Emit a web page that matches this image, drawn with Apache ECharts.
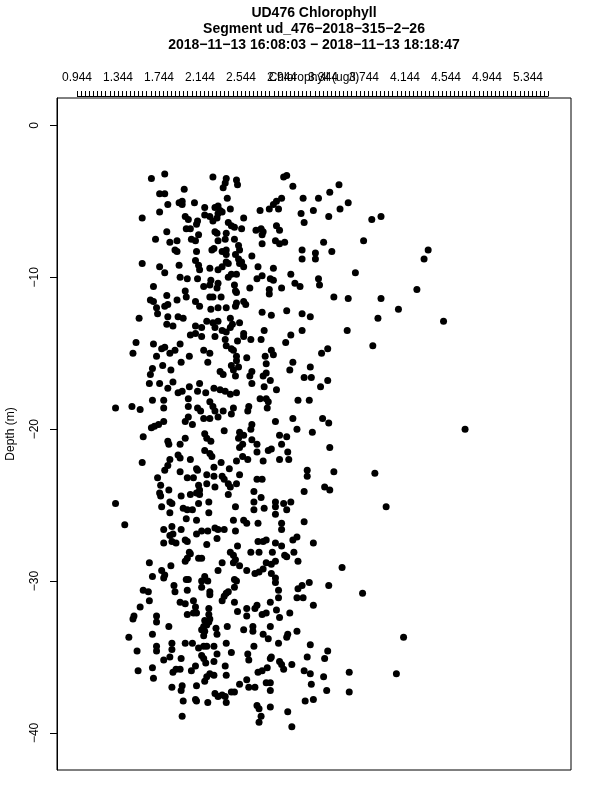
<!DOCTYPE html>
<html><head><meta charset="utf-8">
<script src="https://cdn.jsdelivr.net/npm/echarts@6/dist/echarts.min.js"></script>
<style>html,body{margin:0;padding:0;background:#fff}#c{width:600px;height:800px}</style>
</head><body><div id="c"></div>
<script>
const titleLines = ['UD476 Chlorophyll', 'Segment ud_476\u22122018\u2212315\u22122\u221226', '2018\u221211\u221213 16:08:03 \u2212 2018\u221211\u221213 18:18:47'];
const xTickLabels = [0.944, 1.344, 1.744, 2.144, 2.544, 2.944, 3.344, 3.744, 4.144, 4.544, 4.944, 5.344];
const yTickLabels = [0, -10, -20, -30, -40];
const xName = 'Chlorophyll (ug/l)';
const yName = 'Depth (m)';

// [chlorophyll (ug/l), depth (m)]
const upperCast = [
[1.67,-3.5],[1.80,-3.2],[2.27,-3.4],[2.40,-3.5],[2.39,-3.8],[2.37,-4.1],[2.50,-3.6],[2.51,-3.9],[2.96,-3.4],[2.99,-3.3],[3.05,-4.0],[3.50,-3.9],[3.41,-4.4],[1.99,-4.2],[1.75,-4.5],[1.80,-4.5],[2.41,-4.8],[2.94,-4.8],[3.15,-4.8],[3.30,-4.8],
[2.89,-5.0],[2.86,-5.2],[2.82,-5.5],[2.91,-5.5],[2.73,-5.6],[1.94,-5.1],[1.97,-5.0],[1.97,-5.2],[1.83,-5.2],[2.09,-5.1],[2.19,-5.4],[2.29,-5.4],[2.32,-5.3],[2.34,-5.6],[2.36,-5.7],[2.44,-5.5],[1.75,-5.7],[1.58,-6.1],[2.19,-5.9],[2.24,-6.0],
[2.27,-6.3],[2.31,-6.1],[2.32,-5.8],[2.57,-6.1],[2.00,-6.0],[2.03,-6.2],[2.12,-6.3],[2.11,-6.5],[2.42,-6.4],[2.45,-6.6],[2.48,-6.7],[2.55,-6.8],[2.69,-6.9],[2.74,-6.8],[2.76,-7.0],[2.75,-7.2],[2.89,-6.6],[2.92,-6.9],[3.13,-5.8],[3.25,-5.6],
[3.16,-6.4],[3.40,-6.0],[3.51,-5.5],[3.59,-5.1],[2.01,-6.8],[2.05,-6.8],[2.13,-7.2],[1.82,-7.0],[2.29,-7.0],[2.31,-7.1],[2.40,-7.1],[1.71,-7.5],[1.85,-7.7],[1.92,-7.6],[2.06,-7.5],[2.10,-7.6],[2.32,-7.6],[2.39,-7.5],[2.48,-7.5],[2.75,-7.8],
[2.88,-7.6],[2.92,-7.8],[2.97,-7.7],[3.35,-7.7],[2.52,-7.9],[2.53,-8.2],[1.90,-8.2],[1.92,-8.3],[2.11,-8.3],[2.26,-8.2],[2.28,-8.1],[2.36,-8.3],[2.40,-8.2],[2.40,-8.5],[2.49,-8.5],[2.52,-8.8],[2.55,-9.0],[2.65,-8.6],[3.14,-8.2],[3.14,-8.8],
[3.27,-8.4],[3.27,-8.8],[3.43,-8.3],[1.58,-9.1],[1.75,-9.3],[1.94,-9.2],[2.10,-8.9],[2.13,-9.2],[2.14,-9.5],[2.24,-9.4],[2.32,-9.5],[2.36,-9.3],[2.40,-9.0],[2.42,-9.1],[2.53,-9.1],[2.57,-9.3],[2.71,-9.3],[2.86,-9.4],[1.80,-9.7],[1.95,-10.0],
[2.02,-10.1],[2.12,-10.1],[2.25,-10.2],[2.32,-10.4],[2.42,-10.0],[2.45,-9.8],[2.50,-9.8],[2.70,-10.1],[2.75,-9.9],[2.83,-10.1],[2.86,-10.2],[3.03,-9.8],[3.07,-10.4],[3.12,-10.6],[3.30,-10.1],[3.31,-10.5],[1.69,-10.6],[2.18,-10.6],[2.24,-10.5],[2.31,-10.7],
[2.48,-10.5],[2.63,-10.7],[2.82,-10.8],[2.82,-11.1],[2.94,-10.7],[1.82,-11.2],[2.00,-10.9],[2.01,-11.3],[2.49,-10.9],[2.50,-11.0],[1.66,-11.5],[1.69,-11.6],[1.92,-11.5],[2.10,-11.6],[2.24,-11.3],[2.27,-11.3],[2.35,-11.3],[2.14,-11.9],[2.25,-12.1],[2.32,-12.0],
[2.40,-12.0],[2.49,-11.9],[2.50,-11.7],[2.57,-11.6],[2.59,-11.8],[1.72,-12.0],[1.73,-12.4],[1.80,-11.9],[1.83,-11.8],[2.75,-12.3],[2.84,-12.5],[2.99,-12.2],[3.14,-12.4],[3.22,-12.6],[3.45,-11.3],[3.59,-11.4],[1.55,-12.7],[1.83,-12.6],[1.93,-12.6],[1.98,-12.7],
[2.44,-12.7],[1.82,-13.1],[1.88,-13.2],[2.10,-13.2],[2.16,-13.3],[2.21,-12.9],[2.27,-13.0],[2.29,-13.3],[2.32,-12.9],[2.36,-13.5],[2.40,-13.6],[2.44,-13.3],[2.46,-13.1],[2.53,-13.0],[2.57,-13.7],[2.57,-13.9],[2.05,-13.8],[2.10,-13.7],[2.16,-13.9],[2.29,-13.9],
[2.39,-14.1],[2.51,-14.2],[2.64,-14.1],[2.77,-13.5],[2.74,-14.1],[3.03,-13.8],[3.14,-13.5],[2.98,-14.3],[3.58,-13.5],[1.52,-14.3],[1.69,-14.4],[1.77,-14.7],[1.80,-14.6],[1.95,-14.4],[2.40,-14.5],[2.45,-14.7],[2.47,-14.8],[2.50,-15.2],[3.39,-14.7],[3.33,-15.0],
[1.49,-15.0],[1.72,-15.2],[1.85,-15.0],[1.90,-14.8],[2.04,-15.2],[2.18,-14.8],[2.24,-15.0],[2.78,-15.2],[2.84,-14.8],[2.86,-15.1],[2.60,-15.3],
[3.82,-6.2],[3.91,-6.0],[3.74,-7.6],[4.37,-8.2],[4.33,-8.8],[3.66,-9.7],[4.26,-10.8],[3.91,-11.4],[4.08,-12.1],[3.88,-12.7],[4.52,-12.9],[3.83,-14.5]
];

const middleCast = [
[2.22,-15.6],[2.50,-15.5],[2.45,-15.8],[2.52,-15.9],[2.79,-15.7],[3.05,-15.6],[1.96,-15.6],
[1.68,-16.0],[1.66,-16.4],[1.78,-15.8],[1.86,-16.1],[2.34,-16.2],[2.37,-16.4],[2.47,-16.1],[2.49,-16.5],[2.65,-16.2],[2.63,-16.5],[2.79,-16.3],[2.76,-16.5],[2.83,-16.8],[3.02,-16.1],[3.22,-15.9],[3.16,-16.6],[3.23,-16.6],[3.39,-16.8],[3.32,-17.2],
[1.65,-17.0],[1.75,-17.0],[1.88,-16.9],[1.83,-17.3],[1.93,-17.6],[1.97,-17.5],[2.04,-17.2],[2.14,-17.0],[2.12,-17.5],[2.20,-17.6],[2.28,-17.3],[2.34,-17.4],[2.39,-17.5],[2.44,-17.7],[2.50,-17.6],[2.65,-17.0],[2.77,-17.2],[2.89,-17.4],[2.73,-18.0],[2.79,-18.0],[2.81,-18.2],[3.10,-18.1],[3.21,-18.1],[1.68,-18.1],[1.79,-18.1],[2.03,-18.0],[1.79,-18.6],
[1.32,-18.6],[1.48,-18.5],[1.56,-18.7],[2.03,-18.5],[2.12,-18.6],[2.15,-18.8],[2.24,-18.2],[2.27,-18.5],[2.29,-18.8],[2.37,-18.8],[2.45,-19.0],[2.47,-18.6],[2.62,-18.5],[2.61,-18.8],[2.80,-18.6],[2.88,-19.5],[3.05,-19.3],[3.34,-19.3],[3.40,-19.6],[2.00,-19.5],[2.03,-19.2],[2.07,-19.7],[2.18,-19.3],[2.24,-19.3],[2.32,-19.2],
[1.67,-19.9],[1.70,-19.8],[1.74,-19.7],[1.79,-19.5],[1.59,-20.5],[2.00,-20.6],[1.95,-21.0],[1.83,-20.8],[1.84,-21.0],[2.19,-20.3],[2.21,-20.6],[2.25,-20.8],[2.38,-20.1],[2.65,-19.7],[2.64,-20.0],[2.53,-20.2],[2.57,-20.4],[2.52,-20.6],[2.56,-21.0],[2.53,-21.2],[2.65,-20.7],[2.70,-21.0],[2.92,-20.4],[2.99,-20.5],[3.09,-20.0],[3.24,-20.2],[2.94,-21.0],
[2.19,-21.4],[2.24,-21.6],[2.26,-21.8],[2.12,-22.7],[1.93,-21.7],[1.95,-21.9],[2.05,-22.0],[1.85,-22.0],[1.83,-22.4],[1.80,-22.7],[1.58,-22.2],[2.35,-22.2],[2.43,-22.6],[2.50,-22.1],[2.56,-21.8],[2.61,-22.0],[2.70,-21.5],[2.81,-21.4],[2.84,-21.3],[2.76,-22.1],[2.92,-22.0],[3.00,-21.5],[3.01,-22.0],[3.19,-22.7],[3.19,-23.1],[3.41,-21.2],[3.45,-22.8],[2.28,-22.5],[2.11,-22.6],
[1.73,-23.2],[1.76,-23.7],[1.75,-24.2],[1.76,-24.4],[1.84,-24.0],[1.95,-22.8],[2.02,-23.2],[2.08,-23.2],[2.21,-23.0],[2.28,-23.1],[2.36,-23.1],[2.38,-23.3],[2.42,-23.6],[2.44,-23.8],[2.50,-23.6],[2.53,-23.0],[2.70,-23.3],[2.75,-23.3],[2.13,-23.7],[2.14,-24.0],[2.11,-24.2],[2.21,-23.6],[2.29,-23.8],[2.67,-24.1],[2.74,-24.5],[3.16,-24.1],[3.36,-23.8],[3.41,-24.0],
[1.96,-24.4],[2.05,-24.3],[2.14,-24.3],[2.42,-24.3],[1.85,-24.8],[1.87,-24.9],[1.77,-25.1],[1.98,-25.2],[2.02,-25.3],[2.07,-25.3],[2.13,-24.9],[2.23,-24.8],[2.49,-25.1],[2.67,-24.8],[2.67,-25.3],[2.77,-25.2],[2.88,-24.8],[2.88,-25.1],[2.96,-24.9],[3.03,-24.8],[1.32,-24.9],[1.85,-25.5],[2.23,-25.5],[2.88,-25.6],
[1.41,-26.3],[2.01,-25.9],[2.11,-26.0],[2.47,-26.0],[2.57,-26.0],[2.60,-26.2],[2.71,-26.2],[2.94,-26.2],[3.16,-26.1],[1.79,-26.6],[1.87,-26.4],[1.88,-26.9],[1.96,-26.6],[1.85,-27.0],[2.11,-26.9],[2.16,-26.7],[2.22,-26.7],[2.29,-26.5],[2.32,-26.6],[2.38,-26.6],[2.49,-26.7],[2.94,-26.6],[2.31,-27.2],[1.79,-27.5],[1.87,-27.4],[1.91,-27.5],[2.00,-27.3],[2.02,-27.4],[2.21,-27.6],[2.71,-27.4],[2.76,-27.4],[2.79,-27.3],[2.88,-27.5],[3.05,-27.3],[3.09,-27.1],[3.25,-27.5],[2.99,-25.3],
[3.85,-22.9],[3.96,-25.1],[3.73,-30.8],[4.73,-20.0]
];

const lowerCast = [
[3.40,-30.3],[3.21,-30.1],[3.14,-30.3],[3.10,-30.5],[2.91,-30.6],[2.91,-31.1],[3.09,-31.1],[3.15,-31.1],
[1.65,-28.8],[1.77,-29.3],[1.80,-29.6],[1.79,-29.8],[1.86,-29.0],[1.68,-29.7],[2.00,-28.7],[2.02,-28.5],[2.05,-28.2],[2.04,-28.1],[2.13,-28.5],[2.16,-28.5],[2.32,-29.3],[2.36,-28.8],[2.44,-28.1],[2.47,-28.3],[2.49,-28.6],[2.47,-28.8],[2.51,-27.7],[2.53,-29.0],[2.60,-29.3],[2.64,-28.1],[2.72,-28.1],[2.85,-28.1],[2.94,-27.7],[2.97,-28.3],[2.99,-28.4],[3.06,-28.1],[3.10,-28.7],[2.68,-29.5],[2.72,-29.4],[2.76,-29.2],[2.79,-28.8],[2.84,-28.9],[2.88,-28.7],[2.84,-29.5],[2.88,-29.8],[2.88,-30.1],[3.53,-29.1],
[1.59,-30.6],[1.64,-30.7],[1.65,-31.3],[1.56,-31.7],[1.89,-30.3],[1.90,-30.7],[2.01,-29.9],[2.03,-29.9],[2.02,-30.6],[2.16,-30.0],[2.19,-29.7],[2.22,-30.0],[2.16,-30.4],[2.24,-30.7],[2.24,-30.9],[2.48,-29.9],[2.48,-30.4],[2.50,-30.0],[2.38,-31.0],[2.40,-30.8],[2.42,-30.7],[2.36,-31.3],[2.48,-31.4],[2.51,-32.0],[2.60,-31.8],[2.60,-32.3],[2.68,-31.8],[2.70,-31.6],[2.75,-32.2],[2.79,-32.1],[2.83,-31.4],[2.89,-31.9],[2.92,-32.4],[3.02,-32.1],[3.25,-31.6],
[1.95,-31.4],[2.00,-31.5],[2.08,-31.3],[2.10,-31.7],[2.08,-32.1],[2.02,-32.2],[2.11,-32.1],[2.23,-31.8],[2.23,-32.2],[2.24,-32.5],[2.19,-32.6],[2.18,-33.0],[2.21,-32.9],[2.16,-33.2],[2.19,-33.3],[2.18,-33.6],[2.23,-32.7],[2.30,-33.1],[2.31,-33.5],[2.41,-33.0],[1.72,-32.3],[1.72,-32.7],[1.49,-32.5],[1.50,-32.3],[1.84,-33.0],[1.68,-33.5],[1.45,-33.7],
[1.53,-34.6],[1.72,-34.3],[1.72,-34.6],[1.87,-34.1],[1.87,-34.5],[1.79,-35.2],[1.85,-35.0],[1.96,-35.1],[2.00,-34.1],[2.07,-34.1],[2.13,-34.4],[2.18,-34.3],[2.21,-34.3],[2.28,-34.3],[2.16,-34.9],[2.18,-35.1],[2.20,-35.4],[2.28,-35.3],[2.31,-34.8],[2.40,-34.1],[2.45,-34.7],[2.57,-33.2],[2.66,-33.0],[2.66,-33.3],[2.76,-33.5],[2.81,-33.8],[2.83,-33.0],[2.91,-34.1],[2.99,-33.7],[3.00,-33.5],[3.09,-33.3],[2.67,-34.3],[2.61,-34.8],[2.62,-35.2],[2.83,-35.1],[2.84,-35.0],[2.92,-35.3],[2.94,-35.5],[2.96,-35.8],[3.04,-35.5],[3.22,-34.2],[3.19,-35.0],[3.36,-35.1],[3.39,-34.6],
[1.95,-35.8],[1.91,-35.8],[1.88,-36.0],[1.68,-35.7],[1.69,-36.4],[1.54,-35.9],[2.10,-35.6],[2.06,-35.9],[2.39,-35.6],[2.40,-36.2],[2.21,-36.3],[2.24,-36.1],[2.28,-36.2],[2.19,-36.6],[2.11,-36.9],[1.87,-37.0],[1.97,-36.9],[1.96,-37.2],[1.98,-37.9],[2.10,-37.8],[2.11,-37.9],[2.22,-38.0],[2.29,-37.4],[2.32,-37.6],[2.36,-37.5],[2.40,-38.0],[2.39,-37.6],[2.45,-37.3],[2.48,-37.3],[2.53,-36.8],[2.60,-36.5],[2.62,-37.0],[2.68,-37.0],[2.71,-36.0],[2.75,-35.9],[2.80,-35.7],[2.79,-36.7],[2.83,-36.7],[2.83,-37.2],[3.16,-35.9],[3.22,-36.1],[3.23,-36.8],[3.35,-36.3],[3.38,-37.2],[3.25,-37.8],[3.17,-37.9],[2.70,-38.2],[2.72,-38.4],[2.74,-38.9],[2.72,-39.3],[2.83,-38.3],[3.00,-38.6],[3.04,-39.6],[1.97,-38.9],[3.60,-36.0],[3.60,-37.3],[4.06,-36.1],[4.13,-33.7]
];

// minor tick positions on the top axis (every 0.04 from the first label)
const xMinorTicks = [];
for (let i = 0; i <= 115; i++) xMinorTicks.push(+(xTickLabels[0] + 0.04 * i).toFixed(3));

const FONT = '"Liberation Sans", Arial, Helvetica, sans-serif';
const chart = echarts.init(document.getElementById('c'), null, {renderer: 'canvas'});

const option = {
  animation: false,
  backgroundColor: '#fff',
  title: titleLines.map((t, i) => ({
    text: t, left: 314, top: 6 + 16.3 * i, textAlign: 'center', padding: 0,
    textStyle: {fontFamily: FONT, fontSize: 14, fontWeight: 'bold', color: '#000'}
  })),
  grid: {left: 57, top: 98, width: 514, height: 672, show: true, borderColor: '#000', borderWidth: 1,
    backgroundColor: 'transparent', containLabel: false, outerBoundsMode: 'none'},
  xAxis: {
    type: 'value', position: 'top', min: 0.7489, max: 5.7635, offset: 2,
    splitLine: {show: false},
    axisLine: {show: false, onZero: false},
    axisTick: {show: true, customValues: xMinorTicks, length: 5, inside: false, lineStyle: {color: '#000', width: 1}},
    axisLabel: {customValues: xTickLabels, formatter: v => v.toFixed(3), margin: 12, fontFamily: FONT, fontSize: 12, color: '#000', hideOverlap: false},
    name: xName, nameLocation: 'middle', nameGap: 12, nameMoveOverlap: false,
    nameTextStyle: {fontFamily: FONT, fontSize: 12, color: '#000', verticalAlign: 'bottom'}
  },
  yAxis: {
    type: 'value', min: -42.44, max: 1.804,
    splitLine: {show: false},
    axisLine: {show: true, onZero: false, lineStyle: {color: '#000', width: 1}},
    axisTick: {show: true, customValues: yTickLabels, length: 7, inside: false, lineStyle: {color: '#000', width: 1}},
    axisLabel: {customValues: yTickLabels, rotate: 90, margin: 16, fontFamily: FONT, fontSize: 12, color: '#000',
      formatter: v => String(v).replace('-', '\u2212')},
    name: yName, nameLocation: 'middle', nameGap: 40, nameRotate: 90, nameMoveOverlap: false,
    nameTextStyle: {fontFamily: FONT, fontSize: 12, color: '#000'}
  },
  series: [{
    type: 'scatter', symbol: 'circle', symbolSize: 7,
    data: upperCast.concat(middleCast, lowerCast),
    itemStyle: {color: '#000', opacity: 1}
  }]
};
chart.setOption(option);

// baseline of the top axis, spanning only the tick range (as in the reference)
const xa = chart.convertToPixel({xAxisIndex: 0}, xMinorTicks[0]);
const xb = chart.convertToPixel({xAxisIndex: 0}, xMinorTicks[xMinorTicks.length - 1]);
chart.setOption({graphic: [{type: 'line', shape: {x1: xa, y1: 96.5, x2: xb, y2: 96.5}, style: {stroke: '#000', lineWidth: 1}}]});
</script>
</body></html>
